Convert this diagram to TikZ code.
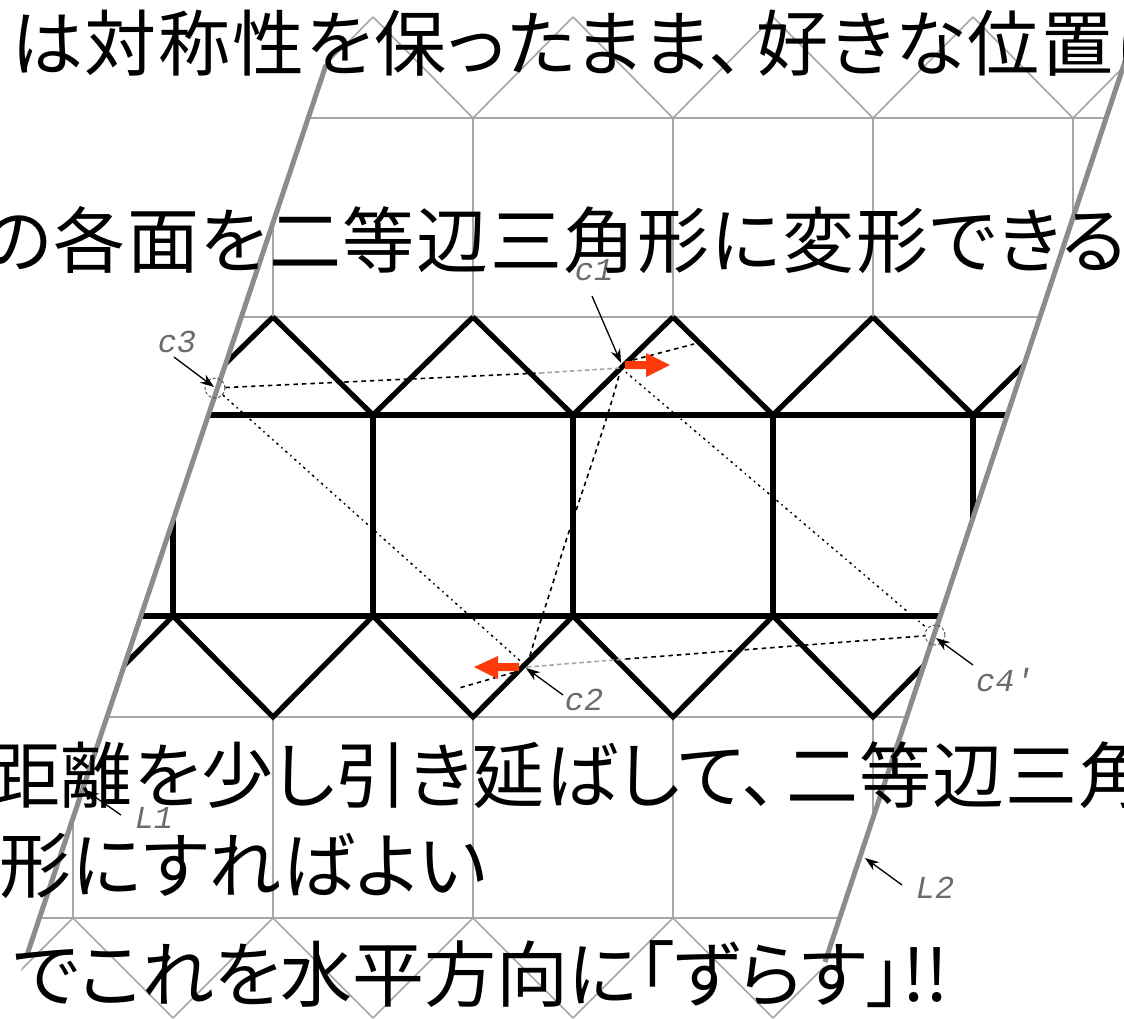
\documentclass[tikz,border=0pt]{standalone}
\usepackage{fontspec}
\usetikzlibrary{arrows.meta}
\newfontfamily\jpfont[RawFeature=+palt]{Noto Sans CJK JP}
\newfontfamily\jpwide[RawFeature=+palt,LetterSpace=2.4]{Noto Sans CJK JP}
\newfontfamily\jpmid[RawFeature=+palt,LetterSpace=1.2]{Noto Sans CJK JP}
\setmonofont{Liberation Mono}
\definecolor{thingray}{HTML}{A6A6A6}
\definecolor{axisgray}{HTML}{8C8C8C}
\definecolor{redarrow}{HTML}{FF3A0A}
\tikzset{
  thin grid/.style={draw=thingray,line width=1.6pt},
  thick grid/.style={draw=black,line width=5.2pt,line join=miter},
  axis/.style={draw=axisgray,line width=5pt},
  big text/.style={anchor=base west,inner sep=0pt,text=black},
  small label/.style={font=\ttfamily\itshape\fontsize{32}{32}\selectfont,text=black!58,inner sep=0pt},
  pointer/.style={draw=black,line width=1.3pt,-{Stealth[length=14pt,width=10pt]}},
  dotline/.style={draw=black,line width=1.5pt,dash pattern=on 2.5pt off 4pt on 1.5pt off 4pt},
  dashline/.style={draw=black,line width=1.6pt,dash pattern=on 4.5pt off 4pt},
  faintline/.style={draw=black!35,line width=1.6pt,dash pattern=on 4.5pt off 3pt},
  ring/.style={draw=black!70,line width=0.9pt,dash pattern=on 3pt off 2pt,circle,minimum size=20pt,inner sep=0pt},
  shift arrow/.style={draw=none,fill=redarrow}
}
\newcommand{\bigsize}{\fontsize{72}{72}\selectfont}
\begin{document}
\begin{tikzpicture}[x=1pt,y=-1pt]
\useasboundingbox (0,0) rectangle (1124,1018);
\fill[white] (0,0) rectangle (1124,1018);
\begin{scope}
\clip (381.2,-100) -- (1178.8,-100) -- (779.2,1100) -- (-22.4,1100) -- cycle;
% thin part of the pattern
\draw[thin grid] (-100,118) -- (1300,118);
\draw[thin grid] (-100,317) -- (1300,317);
\draw[thin grid] (-100,717) -- (1300,717);
\draw[thin grid] (-100,918) -- (1300,918);
\foreach \x in {273,473,673,873,1073} {
  \draw[thin grid] (\x,118) -- (\x,317);
  \draw[thin grid] (\x-100,17) -- (\x,118) -- (\x+100,17);
}
\foreach \x in {73,273,473,673,873} {
  \draw[thin grid] (\x,717) -- (\x,918);
  \draw[thin grid] (\x-100,1018) -- (\x,918) -- (\x+100,1018);
}
% thick part of the pattern
\draw[thick grid] (-100,415) -- (1300,415);
\draw[thick grid] (-100,616) -- (1300,616);
\foreach \x in {173,373,573,773,973} {
  \draw[thick grid] (\x,415) -- (\x,616);
}
\foreach \x in {173,373,573,773,973,1173} {
  \draw[thick grid] (\x-100,317) -- (\x,415) -- (\x+100,317);
}
\foreach \x in {73,273,473,673,873,1073} {
  \draw[thick grid] (\x-100,616) -- (\x,717) -- (\x+100,616);
}
\end{scope}
% boundary lines
\coordinate (L1a) at (326,65);
\coordinate (L1b) at (27,955);
\coordinate (L2a) at (1125.5,60);
\coordinate (L2b) at (825,962);
\draw[axis] (L1a) -- (L1b);
\draw[axis] (L2a) -- (L2b);
% construction points
\coordinate (c1p) at (621,368);
\coordinate (c2p) at (527,667);
\coordinate (c3p) at (215,388);
\coordinate (c4p) at (935,635);
\node[ring] (ring3) at (c3p) {};
\node[ring] (ring4) at (c4p) {};
\draw[dashline] (ring3) -- (540,373);
\draw[faintline] (540,373) -- (c1p);
\draw[dashline] (633,360) -- (694,344);
\draw[dashline] (c1p) .. controls (605,430) and (575,510) .. (559,563) .. controls (545,610) and (535,635) .. (c2p);
\draw[faintline] (c2p) -- (626,659);
\draw[dashline] (626,659) -- (ring4);
\draw[dashline] (522,670) -- (459,688);
\draw[dotline] (ring3) -- (c2p);
\draw[dotline] (c1p) -- (ring4);
% labels
\node[small label] (c1) at (594,270) {c1};
\node[small label] (c2) at (584,700) {c2};
\node[small label] (c3) at (177,342) {c3};
\node[small label] (c4) at (1005,680) {c4'};
\node[small label] (L1) at (154,818) {L1};
\node[small label] (L2) at (935,888) {L2};
\coordinate (c1s) at (592,296);
\coordinate (c2s) at (563,695);
\coordinate (c3s) at (174,357);
\coordinate (c4s) at (973,665);
\coordinate (L1s) at (121,815);
\coordinate (L2s) at (902,885);
\coordinate (c1t) at (621,363);
\coordinate (c2t) at (526,668);
\coordinate (c3t) at (214,387);
\coordinate (c4t) at (936,638);
\coordinate (L1t) at (85,790);
\coordinate (L2t) at (865,858);
\draw[pointer] (c1s) -- (c1t);
\draw[pointer] (c2s) -- (c2t);
\draw[pointer] (c3s) -- (c3t);
\draw[pointer] (c4s) -- (c4t);
\draw[pointer] (L1s) -- (L1t);
\draw[pointer] (L2s) -- (L2t);
% red shift arrows
\fill[shift arrow] (625,361) -- (646,361) -- (646,353) -- (670,365) -- (646,377) -- (646,369) -- (625,369) -- cycle;
\fill[shift arrow] (519,663) -- (498,663) -- (498,656) -- (474,667) -- (498,679) -- (498,671) -- (519,671) -- cycle;
% text
\node[big text] (t1) at (11,70) {\jpwide\bigsize は対称性を保ったまま、\hspace{12pt}好きな位置に};
\node[big text] (t2) at (-18,267) {\jpwide\bigsize の各面を二等辺三角形に変形できる};
\node[big text] (t3) at (-12,802) {\jpmid\bigsize 距離を少し引き延ばして、\hspace{9pt}二等辺三角};
\node[big text] (t4) at (-1,892) {\jpmid\bigsize 形にすればよい};
\node[big text] (t5) at (13,1001) {\jpfont\bigsize でこれを水平方向に「ずらす」!!};
\end{tikzpicture}
\end{document}
